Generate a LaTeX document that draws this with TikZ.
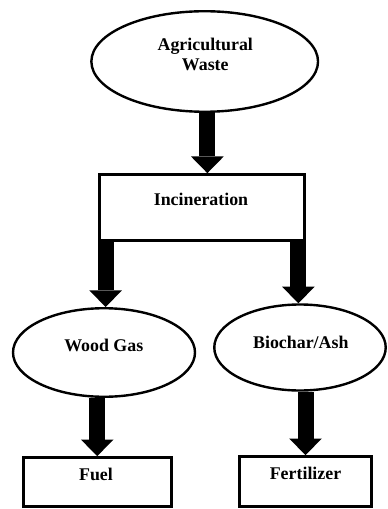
\documentclass[tikz,border=0pt]{standalone}
\usepackage{fontspec}
\setmainfont{Liberation Serif}
\usetikzlibrary{arrows.meta, shapes.geometric}

\begin{document}
\begin{tikzpicture}[x=0.75pt, y=-0.75pt,
	oval/.style={draw, ellipse, line width=1.8pt, inner sep=0pt},
	box/.style={draw, rectangle, line width=2pt, inner sep=0pt},
	lbl/.style={inner sep=0pt, font=\bfseries\fontsize{13.4pt}{15pt}\selectfont},
	flow/.style={line width=12pt, -{Triangle[width=24.5pt, length=12.5pt, line width=0pt]}}]
	\useasboundingbox (0,0) rectangle (387,509);
	% shapes
	\node [oval, minimum width=170pt, minimum height=75.4pt] (waste) at (204.7,61.5) {};
	\node [box, minimum width=153.75pt, minimum height=49.5pt] (incin) at (202,207.5) {};
	\node [oval, minimum width=136.5pt, minimum height=66.4pt] (gas) at (104,352.5) {};
	\node [oval, minimum width=128.6pt, minimum height=64.5pt] (char) at (300,347.5) {};
	\node [box, minimum width=111pt, minimum height=36.75pt] (fuel) at (97.2,482) {};
	\node [box, minimum width=99pt, minimum height=37.5pt] (fert) at (305.5,481.5) {};
	% texts
	\node [lbl, align=center, anchor=north] (waste-t) at (205.3,38.3) {Agricultural\\Waste};
	\node [lbl, anchor=base] (incin-t) at (201,206) {Incineration};
	\node [lbl, anchor=base] (gas-t) at (103.8,351.7) {Wood Gas};
	\node [lbl, anchor=base] (char-t) at (300.8,348.3) {Biochar/Ash};
	\node [lbl, anchor=base] (fuel-t) at (96,480) {Fuel};
	\node [lbl, anchor=base] (fert-t) at (305.5,479.3) {Fertilizer};
	% arrows
	\draw [flow] ([xshift=2pt]waste.south) -- ([xshift=2pt]waste.south |- incin.north);
	\draw [flow] ([xshift=5.6pt]incin.south west) -- ([xshift=5.6pt]incin.south west |- gas.north);
	\draw [flow] ([xshift=-5.6pt]incin.south east) -- ([xshift=-5.6pt]incin.south east |- char.north);
	\draw [flow] (fuel.north |- gas.south) -- (fuel.north);
	\draw [flow] (fert.north |- char.south) -- (fert.north);
\end{tikzpicture}
\end{document}
